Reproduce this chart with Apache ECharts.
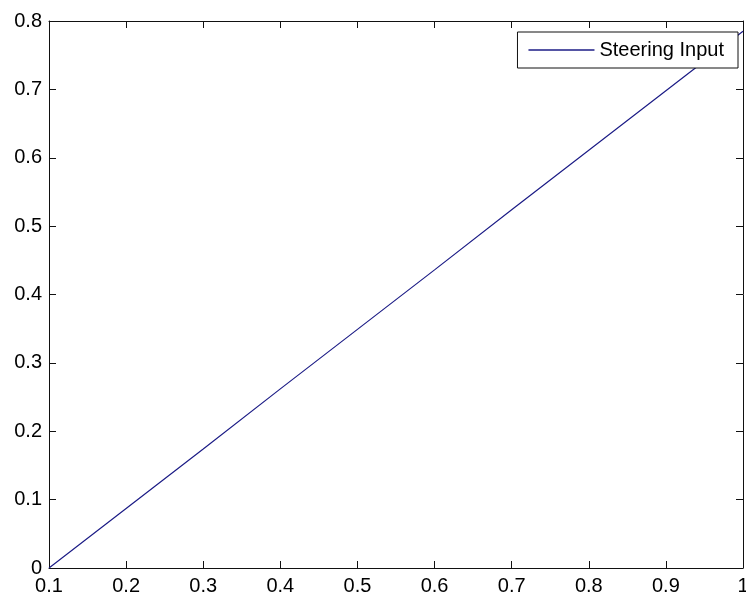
<!DOCTYPE html>
<html>
<head>
<meta charset="utf-8">
<title>Steering Input</title>
<script src="https://cdn.jsdelivr.net/npm/echarts@6/dist/echarts.min.js"></script>
<style>
  html, body { margin: 0; padding: 0; background: #ffffff; }
  #chart { width: 746px; height: 601px; }
</style>
</head>
<body>
<div id="chart"></div>
<script>
// Input positions (x) and the corresponding steering input values
const xValues = [0.1, 0.2, 0.3, 0.4, 0.5, 0.6, 0.7, 0.8, 0.9, 1.0];
const steeringInput = [0, 0.087, 0.174, 0.262, 0.349, 0.436, 0.524, 0.611, 0.698, 0.785];

// Axis tick labels
const xTickLabels = ['0.1', '0.2', '0.3', '0.4', '0.5', '0.6', '0.7', '0.8', '0.9', '1'];
const yTickLabels = ['0', '0.1', '0.2', '0.3', '0.4', '0.5', '0.6', '0.7', '0.8'];

const seriesName = 'Steering Input';

const FONT = '"Liberation Sans", Arial, Helvetica, sans-serif';
const AXIS_COLOR = '#111111';
const LINE_COLOR = '#1c1c86';

function labelFor(list, min, value) {
  const idx = Math.round((value - min) / 0.1);
  return list[idx] !== undefined ? list[idx] : '';
}

const frameAxis = {
  axisLine: { show: true, onZero: false, lineStyle: { color: AXIS_COLOR, width: 1 } },
  axisTick: { show: true, inside: true, length: 7, lineStyle: { color: AXIS_COLOR, width: 1 } },
  splitLine: { show: false }
};

const chart = echarts.init(document.getElementById('chart'), null, { renderer: 'canvas' });

chart.setOption({
  animation: false,
  backgroundColor: '#ffffff',
  textStyle: { fontFamily: FONT },
  grid: { left: 49, right: 3, top: 21, bottom: 33, containLabel: false, outerBoundsMode: 'none' },
  legend: {
    data: [seriesName],
    right: 8,
    top: 32,
    orient: 'horizontal',
    icon: 'rect',
    itemWidth: 66,
    itemHeight: 1.5,
    itemGap: 6,
    padding: [8, 14, 8, 11],
    borderColor: AXIS_COLOR,
    borderWidth: 1,
    backgroundColor: '#ffffff',
    textStyle: { fontFamily: FONT, fontSize: 20, color: '#000000' }
  },
  xAxis: [
    Object.assign({
      type: 'value',
      position: 'bottom',
      min: 0.1,
      max: 1,
      interval: 0.1,
      axisLabel: {
        show: true,
        margin: 8,
        fontFamily: FONT,
        fontSize: 20,
        color: '#000000',
        formatter: v => labelFor(xTickLabels, 0.1, v)
      }
    }, frameAxis),
    Object.assign({
      type: 'value',
      position: 'top',
      min: 0.1,
      max: 1,
      interval: 0.1,
      axisLabel: { show: false }
    }, frameAxis)
  ],
  yAxis: [
    Object.assign({
      type: 'value',
      position: 'left',
      min: 0,
      max: 0.8,
      interval: 0.1,
      axisLabel: {
        show: true,
        margin: 7,
        fontFamily: FONT,
        fontSize: 20,
        color: '#000000',
        formatter: v => labelFor(yTickLabels, 0, v)
      }
    }, frameAxis),
    Object.assign({
      type: 'value',
      position: 'right',
      min: 0,
      max: 0.8,
      interval: 0.1,
      axisLabel: { show: false }
    }, frameAxis)
  ],
  series: [
    {
      name: seriesName,
      type: 'line',
      xAxisIndex: 0,
      yAxisIndex: 0,
      data: xValues.map((x, i) => [x, steeringInput[i]]),
      showSymbol: false,
      symbol: 'none',
      color: LINE_COLOR,
      lineStyle: { color: LINE_COLOR, width: 1.2 },
      emphasis: { disabled: true }
    }
  ]
});
</script>
</body>
</html>
